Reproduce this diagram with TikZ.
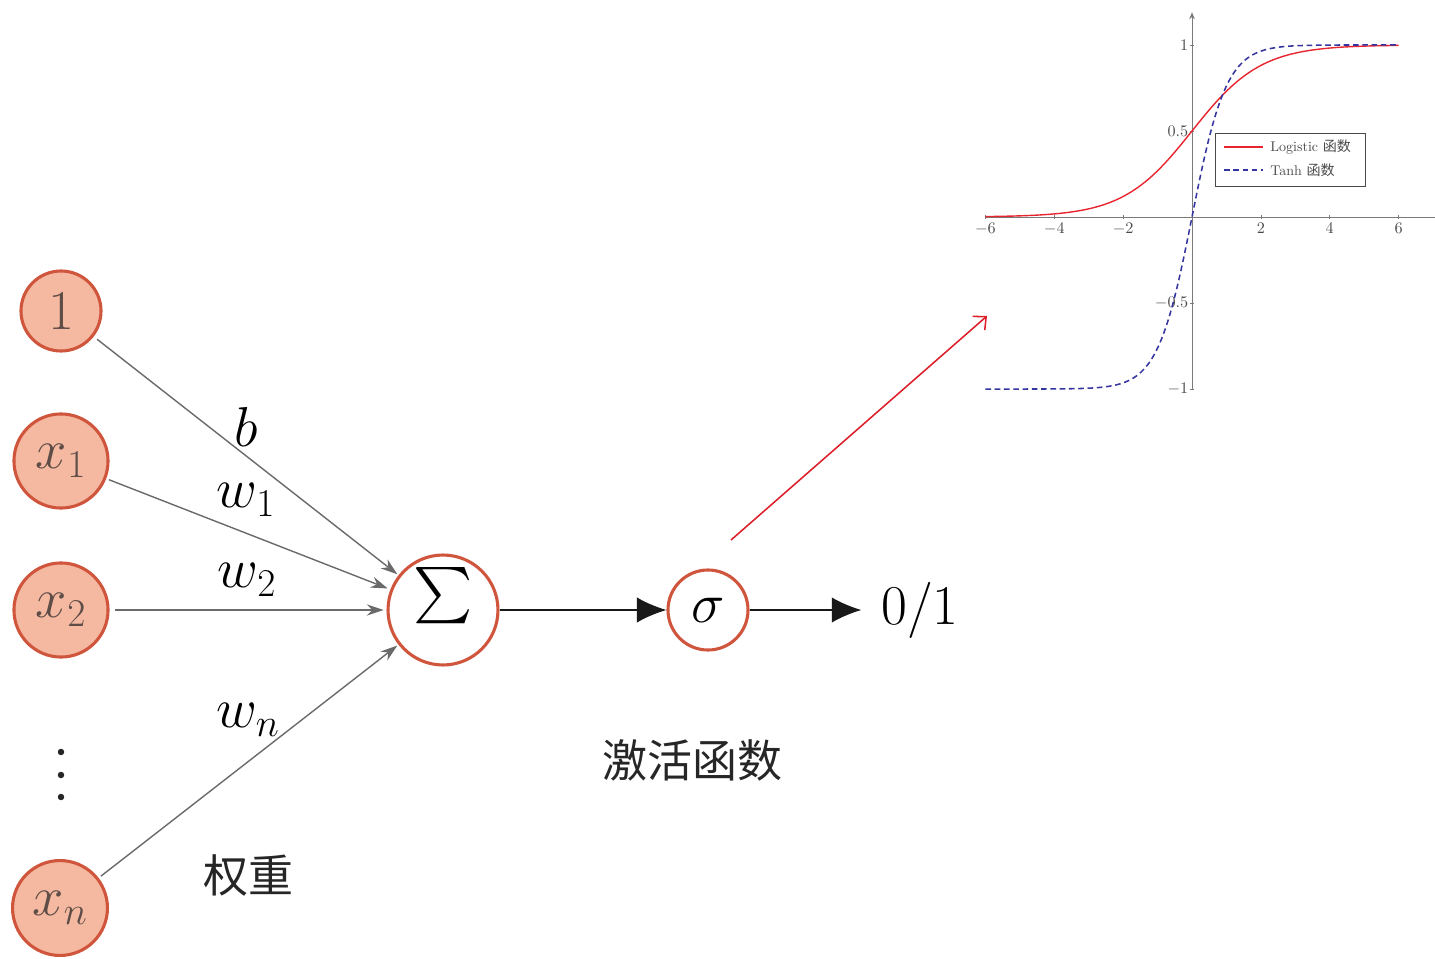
\RequirePackage{fix-cm}
\documentclass[tikz,border=0pt]{standalone}
\usepackage{graphicx}
\usepackage{fontspec}
\newfontfamily\cjk{Noto Sans CJK SC}
\usetikzlibrary{arrows.meta}
\definecolor{nfill}{HTML}{F4B9A0}
\definecolor{ndraw}{HTML}{D0553D}
\definecolor{ntext}{HTML}{5E4C47}
\definecolor{garrow}{HTML}{6A6A6A}
\definecolor{axisgray}{HTML}{7A7A7A}
\definecolor{lblgray}{HTML}{4A4A4A}
\definecolor{logred}{HTML}{E8252F}
\definecolor{tanhblue}{HTML}{3535A0}
\definecolor{pointred}{HTML}{DD1F2A}
\begin{document}
\begin{tikzpicture}[x=0.025cm,y=-0.025cm,
  inp/.style={circle,draw=ndraw,fill=nfill,line width=2.2pt,inner sep=0pt,text=ntext,font=\fontsize{40}{48}\selectfont},
  unit/.style={circle,draw=ndraw,fill=white,line width=2.2pt,inner sep=0pt,font=\fontsize{40}{48}\selectfont},
  wlabel/.style={inner sep=0pt,font=\fontsize{40}{48}\selectfont},
  cjklabel/.style={inner sep=0pt,font=\cjk\fontsize{32}{38}\selectfont,text=black!85},
  garr/.style={draw=garrow,line width=1pt,-{Stealth[length=12pt,width=8pt]}},
  barr/.style={draw=black!90,line width=1pt,-{Latex[length=21pt,width=18pt]}},
  tick/.style={font=\fontsize{11.5}{13}\selectfont,text=lblgray,inner sep=1.5pt},
  legtext/.style={font=\fontsize{10}{12}\selectfont,text=lblgray,inner sep=0pt,anchor=west}]
\useasboundingbox (0,0) rectangle (1435,959);

% input nodes
\node[inp,minimum size=56.9pt] (n1) at (61,311) {$1$};
\node[inp,minimum size=66.9pt] (nx1) at (61,461) {$x_1$};
\node[inp,minimum size=66.9pt] (nx2) at (61,610) {$x_2$};
\node[inp,minimum size=67.5pt] (nxn) at (60,908) {$x_n$};
\fill[black!85] (61,752) circle (2.3pt) (61,775) circle (2.3pt) (61,797) circle (2.3pt);

% summation and activation
\node[unit,minimum size=78.2pt] (sum) at (443,610) {\scalebox{4}{$\sum$}};
\node[unit,minimum size=56.9pt] (sig) at (708,610) {$\sigma$};
\node[wlabel] (out) at (920,610) {$0/1$};

% weights
\node[wlabel] (lb) at (246,427) {$b$};
\node[wlabel] (lw1) at (246,500) {$w_1$};
\node[wlabel] (lw2) at (247,580) {$w_2$};
\node[wlabel] (lwn) at (248,720) {$w_n$};
\node[cjklabel] (qz) at (248,876) {权重};
\node[cjklabel] (jh) at (692,760) {激活函数};

% connectors
\draw[garr,shorten <=3pt,shorten >=1pt] (n1) -- (sum);
\draw[garr,shorten <=2pt,shorten >=2pt] (nx1) -- (sum);
\draw[garr,shorten <=4pt,shorten >=2pt] (nx2) -- (sum);
\draw[garr,shorten <=2pt,shorten >=1pt] (nxn) -- (sum);
\draw[barr] (sum) -- (sig);
\draw[barr,shorten >=14pt] (sig) -- (out.west);

% red pointer arrow
\coordinate (ps) at (731,540);
\coordinate (pe) at (987,316);
\draw[pointred,line width=1.1pt,-{Straight Barb[length=7pt,width=13pt]}] (ps) -- (pe);

% plot
\coordinate (O) at (1192,217);
\begin{scope}[shift={(O)},x=0.8605cm,y=4.3cm]
  \draw[axisgray,line width=0.7pt] (-6,0) -- (7.1,0);
  \draw[axisgray,line width=0.7pt,-{Stealth[length=5pt,width=4pt]}] (0,-1) -- (0,1.19);
  \foreach \t/\nm in {-6/a,-4/b,-2/c,2/d,4/e,6/f}{
    \draw[axisgray,line width=0.5pt] (\t,-0.012) -- (\t,0.012);
    \node[tick,below=2.5pt] (tx\nm) at (\t,0) {$\t$};
  }
  \foreach \v/\lab/\nm in {1/1/a,0.5/0.5/b,-0.5/-0.5/c,-1/-1/d}{
    \draw[axisgray,line width=0.5pt] (-0.06,\v) -- (0.06,\v);
    \node[tick,left=1pt] (ty\nm) at (0,\v) {$\lab$};
  }
  \draw[logred,line width=1pt,domain=-6:6,samples=120,smooth] plot (\x,{1/(1+exp(-\x))});
  \draw[tanhblue,line width=1.1pt,dash pattern=on 4pt off 2.6pt,domain=-6:6,samples=160,smooth] plot (\x,{tanh(\x)});
\end{scope}

% legend
\draw[lblgray,line width=0.6pt] (1215,133) rectangle (1365,186);
\coordinate (l1a) at (1224,147); \coordinate (l1b) at (1263,147);
\coordinate (l2a) at (1224,170); \coordinate (l2b) at (1263,170);
\draw[logred,line width=1pt] (l1a) -- (l1b);
\draw[tanhblue,line width=1.1pt,dash pattern=on 4pt off 2.6pt] (l2a) -- (l2b);
\node[legtext] (lg1) at (1270,147) {Logistic {\cjk 函数}};
\node[legtext] (lg2) at (1270,170) {Tanh {\cjk 函数}};
\end{tikzpicture}
\end{document}
